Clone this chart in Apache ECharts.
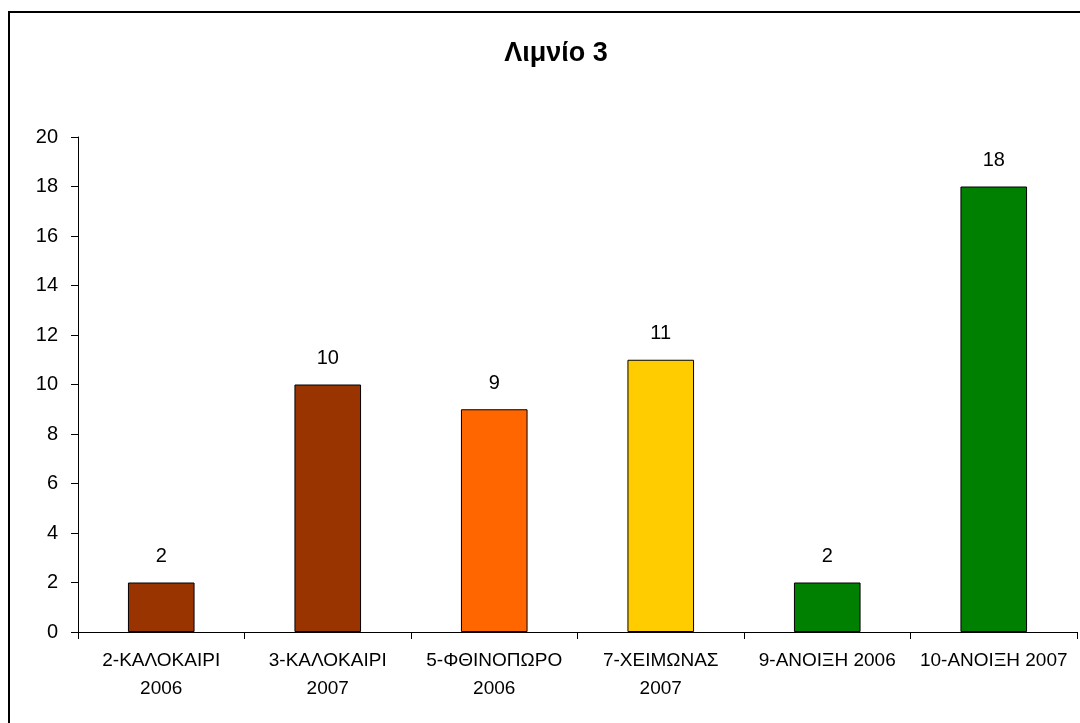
<!DOCTYPE html>
<html>
<head>
<meta charset="utf-8">
<script src="https://cdn.jsdelivr.net/npm/echarts@6/dist/echarts.min.js"></script>
<style>
html,body{margin:0;padding:0;background:#fff;}
#c{width:1080px;height:723px;}
</style>
</head>
<body>
<div id="c"></div>
<script>
const titleText = 'Λιμνίο 3';
const categories = ['2-ΚΑΛΟΚΑΙΡΙ 2006', '3-ΚΑΛΟΚΑΙΡΙ 2007', '5-ΦΘΙΝΟΠΩΡΟ 2006', '7-ΧΕΙΜΩΝΑΣ 2007', '9-ΑΝΟΙΞΗ 2006', '10-ΑΝΟΙΞΗ 2007'];
const values = [2, 10, 9, 11, 2, 18];
const barColors = ['#993300', '#993300', '#FF6600', '#FFCC00', '#008000', '#008000'];

const chart = echarts.init(document.getElementById('c'));
const font = 'Liberation Sans, Arial, sans-serif';
chart.setOption({
  backgroundColor: '#fff',
  animation: false,
  graphic: [{
    type: 'rect',
    shape: {x: 9, y: 12, width: 1200, height: 900},
    style: {fill: 'none', stroke: '#000', lineWidth: 2},
    silent: true
  }, {
    type: 'text',
    x: 556, y: 54,
    style: {
      text: titleText, align: 'center', verticalAlign: 'middle',
      font: 'bold 27px Liberation Sans, Arial, sans-serif', fill: '#000'
    },
    silent: true
  }],
  grid: {left: 78, right: 3, top: 137, bottom: 91},
  xAxis: {
    type: 'category',
    data: categories,
    axisLine: {lineStyle: {color: '#000', width: 1}},
    axisTick: {show: true, length: 7, lineStyle: {color: '#000'}},
    axisLabel: {
      color: '#000', fontFamily: font, fontSize: 19, margin: 15, lineHeight: 28,
      interval: 0,
      formatter: function (v) { return v.length > 14 ? v.replace(' ', '\n') : v; }
    },
    splitLine: {show: false}
  },
  yAxis: {
    type: 'value',
    min: 0, max: 20, interval: 2,
    axisLine: {show: true, lineStyle: {color: '#000', width: 1}},
    axisTick: {show: true, length: 7, lineStyle: {color: '#000'}},
    axisLabel: {color: '#000', fontFamily: font, fontSize: 20, margin: 20},
    splitLine: {show: false}
  },
  series: [{
    type: 'bar',
    barWidth: '40%',
    data: values.map((v, i) => ({value: v, itemStyle: {color: barColors[i]}})),
    itemStyle: {borderColor: '#000', borderWidth: 1},
    label: {show: true, position: 'top', distance: 16, color: '#000', fontFamily: font, fontSize: 20}
  }]
});
</script>
</body>
</html>
